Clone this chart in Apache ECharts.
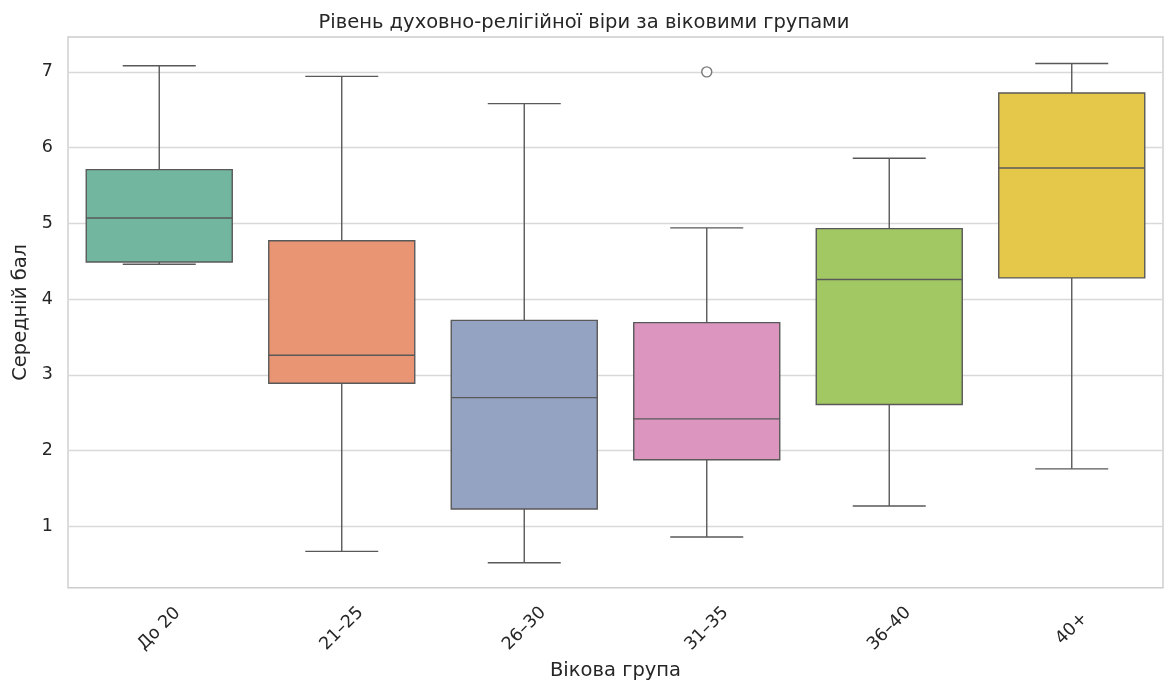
<!DOCTYPE html>
<html>
<head>
<meta charset="utf-8">
<script src="https://cdn.jsdelivr.net/npm/echarts@6/dist/echarts.min.js"></script>
<style>html,body{margin:0;padding:0;background:#fff}#c{width:1168px;height:686px}</style>
</head>
<body>
<div id="c"></div>
<script>
const categories = ['До 20', '21–25', '26–30', '31–35', '36–40', '40+'];
const whiskerLow = [4.46, 0.67, 0.52, 0.86, 1.27, 1.76];
const q1 = [4.49, 2.89, 1.23, 1.88, 2.61, 4.28];
const median = [5.07, 3.26, 2.70, 2.42, 4.26, 5.73];
const q3 = [5.71, 4.77, 3.72, 3.69, 4.93, 6.72];
const whiskerHigh = [7.08, 6.94, 6.58, 4.94, 5.86, 7.11];
const outliers = [['31–35', 7.0]];
const yTicks = [1, 2, 3, 4, 5, 6, 7];
const colors = ['#72b6a0', '#e99573', '#95a3c3', '#db95bf', '#a2c864', '#e5c849'];

const boxData = categories.map((c, i) => [i, whiskerLow[i], q1[i], median[i], q3[i], whiskerHigh[i]]);
const lineColor = '#595959';
const font = '"DejaVu Sans", sans-serif';

function renderBox(params, api) {
  const i = api.value(0);
  const lo = api.coord([i, api.value(1)]);
  const b1 = api.coord([i, api.value(2)]);
  const md = api.coord([i, api.value(3)]);
  const b3 = api.coord([i, api.value(4)]);
  const hi = api.coord([i, api.value(5)]);
  const band = api.size([1, 0])[0];
  const bw = band * 0.8, cw = band * 0.4;
  const x = lo[0];
  const ls = {stroke: lineColor, lineWidth: 1.4};
  return {
    type: 'group',
    children: [
      {type: 'line', shape: {x1: x, y1: b1[1], x2: x, y2: lo[1]}, style: ls},
      {type: 'line', shape: {x1: x, y1: b3[1], x2: x, y2: hi[1]}, style: ls},
      {type: 'line', shape: {x1: x - cw / 2, y1: lo[1], x2: x + cw / 2, y2: lo[1]}, style: ls},
      {type: 'line', shape: {x1: x - cw / 2, y1: hi[1], x2: x + cw / 2, y2: hi[1]}, style: ls},
      {type: 'rect', shape: {x: x - bw / 2, y: b3[1], width: bw, height: b1[1] - b3[1]},
        style: {fill: colors[i], stroke: lineColor, lineWidth: 1.4}},
      {type: 'line', shape: {x1: x - bw / 2, y1: md[1], x2: x + bw / 2, y2: md[1]}, style: ls}
    ]
  };
}

const chart = echarts.init(document.getElementById('c'), null, {renderer: 'canvas'});
chart.setOption({
  backgroundColor: '#fff',
  animation: false,
  title: {
    text: 'Рівень духовно-релігійної віри за віковими групами',
    left: 'center', top: 8,
    textStyle: {fontFamily: font, fontSize: 19.5, fontWeight: 'normal', color: '#262626'}
  },
  grid: {left: 68, right: 5, top: 37, bottom: 96, show: true, borderColor: '#cccccc', borderWidth: 1.4, backgroundColor: 'transparent'},
  xAxis: {
    type: 'category', data: categories,
    axisLine: {show: false}, axisTick: {show: false},
    splitLine: {show: false},
    axisLabel: {rotate: 45, align: 'center', verticalAlign: 'middle', fontFamily: font, fontSize: 17.5, color: '#262626', margin: 41},
    name: 'Вікова група', nameLocation: 'middle', nameGap: 72,
    nameTextStyle: {fontFamily: font, fontSize: 19.5, color: '#262626'}
  },
  yAxis: {
    type: 'value', min: 0.19, max: 7.46,
    axisLine: {show: false},
    axisTick: {show: false, customValues: yTicks},
    splitLine: {show: true, lineStyle: {color: '#d9d9d9', width: 1.3}},
    axisLabel: {customValues: yTicks, fontFamily: font, fontSize: 17.5, color: '#262626', margin: 15},
    name: 'Середній бал', nameLocation: 'middle', nameGap: 36,
    nameTextStyle: {fontFamily: font, fontSize: 19.5, color: '#262626'}
  },
  series: [
    {type: 'custom', renderItem: renderBox, data: boxData, encode: {x: 0, y: [1, 2, 3, 4, 5]}, z: 3},
    {type: 'scatter', data: outliers, symbol: 'circle', symbolSize: 10,
      itemStyle: {color: '#ffffff', borderColor: lineColor, borderWidth: 1.4}, z: 4}
  ]
});
</script>
</body>
</html>
